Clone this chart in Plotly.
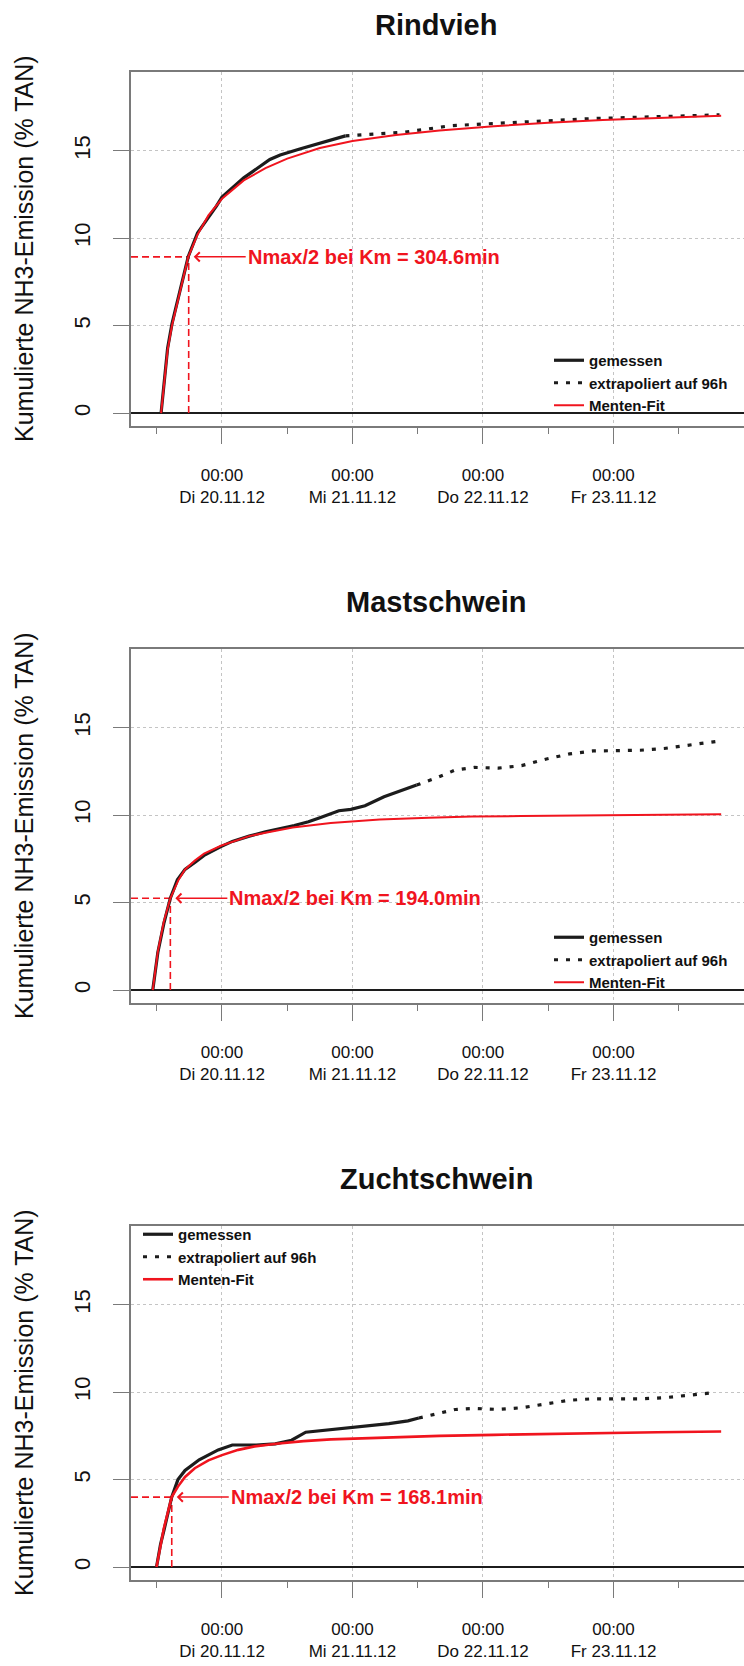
import pandas as pd
import plotly.graph_objects as go

# ---------------- data (hours relative to 20.11.12 00:00, values in % TAN) ----------------
BASE = "2012-11-20 00:00"

titles = ["Rindvieh", "Mastschwein", "Zuchtschwein"]
legend_names = ["gemessen", "extrapoliert auf 96h", "Menten-Fit"]
tick_dates = ["2012-11-20", "2012-11-21", "2012-11-22", "2012-11-23"]
tick_labels = ["00:00<br>Di 20.11.12", "00:00<br>Mi 21.11.12",
               "00:00<br>Do 22.11.12", "00:00<br>Fr 23.11.12"]
minor_dates = ["2012-11-19 12:00", "2012-11-20 12:00", "2012-11-21 12:00",
               "2012-11-22 12:00", "2012-11-23 12:00"]
y_ticks = [0, 5, 10, 15]

# Rindvieh
rind_meas_h = [-11.2, -10.6, -10.0, -9.2, -8.0, -6.2, -4.5, -2.4, -1.0, 0.0, 4.0, 8.8, 10.7, 14.3, 19.3, 22.7]
rind_meas_v = [0.0, 2.1, 3.7, 5.1, 6.7, 8.95, 10.3, 11.2, 11.85, 12.35, 13.45, 14.5, 14.75, 15.1, 15.55, 15.85]
rind_extra_h = [22.7, 28.0, 33.3, 38.0, 42.1, 46.5, 50.8, 55.0, 59.5, 64.0, 68.2, 73.0, 77.0, 81.0, 85.7, 91.5]
rind_extra_v = [15.85, 15.95, 16.05, 16.25, 16.43, 16.5, 16.57, 16.6, 16.67, 16.75, 16.84, 16.88, 16.92, 16.95, 16.98, 17.05]
rind_fit_h = [-11.2, -10.6, -10.0, -9.2, -8.0, -6.2, -4.5, -2.5, 0.0, 4.0, 8.0, 12.0, 18.0, 24.0, 32.0, 40.0, 50.0, 60.0, 70.0, 80.0, 91.8]
rind_fit_v = [0.0, 2.0, 3.6, 5.0, 6.6, 8.93, 10.2, 11.3, 12.25, 13.3, 14.0, 14.55, 15.15, 15.55, 15.9, 16.15, 16.4, 16.6, 16.75, 16.88, 17.0]

# Mastschwein
mast_meas_h = [-12.73, -11.8, -10.7, -9.5, -8.2, -6.8, -5.0, -3.3, -0.2, 1.9, 5.0, 8.0, 13.3, 15.9, 18.0, 20.3, 21.5, 23.7, 26.3, 29.8, 33.3, 35.8]
mast_meas_v = [0.0, 2.15, 3.8, 5.25, 6.3, 6.9, 7.3, 7.7, 8.2, 8.5, 8.8, 9.05, 9.41, 9.62, 9.85, 10.1, 10.25, 10.33, 10.54, 11.05, 11.46, 11.72]
mast_extra_h = [35.8, 39.4, 42.9, 46.4, 50.8, 55.1, 59.5, 63.9, 68.2, 72.6, 76.9, 81.3, 85.7, 91.0]
mast_extra_v = [11.72, 12.13, 12.58, 12.73, 12.69, 12.83, 13.2, 13.5, 13.67, 13.71, 13.71, 13.81, 13.98, 14.22]
mast_fit_h = [-12.73, -11.8, -10.7, -9.5, -8.0, -6.8, -5.0, -3.3, -0.2, 2.0, 5.0, 8.0, 13.0, 20.0, 29.0, 38.0, 46.0, 55.0, 64.0, 80.0, 91.8]
mast_fit_v = [0.0, 2.2, 3.9, 5.25, 6.3, 6.9, 7.4, 7.8, 8.25, 8.5, 8.8, 9.0, 9.3, 9.55, 9.75, 9.85, 9.92, 9.95, 9.97, 10.02, 10.05]

# Zuchtschwein
zucht_meas_h = [-12.04, -11.3, -10.7, -9.25, -8.1, -6.8, -4.2, -0.7, 1.9, 6.3, 9.8, 12.8, 15.4, 20.2, 25.5, 30.7, 34.2, 36.2]
zucht_meas_v = [0.0, 1.3, 2.07, 4.0, 5.0, 5.52, 6.13, 6.7, 6.98, 6.98, 7.04, 7.25, 7.71, 7.85, 8.02, 8.2, 8.36, 8.52]
zucht_extra_h = [36.2, 39.4, 42.9, 46.4, 50.8, 55.1, 59.5, 63.9, 68.2, 72.6, 76.9, 81.3, 85.7, 91.0]
zucht_extra_v = [8.52, 8.77, 9.01, 9.07, 9.01, 9.11, 9.34, 9.54, 9.62, 9.62, 9.62, 9.68, 9.82, 9.99]
zucht_fit_h = [-12.04, -11.3, -10.7, -9.25, -8.1, -6.8, -5.0, -2.5, 0.0, 3.0, 6.0, 10.0, 15.0, 20.0, 30.0, 40.0, 50.0, 60.0, 70.0, 80.0, 91.8]
zucht_fit_v = [0.0, 1.3, 2.2, 4.0, 4.6, 5.15, 5.65, 6.1, 6.4, 6.7, 6.9, 7.05, 7.2, 7.3, 7.42, 7.5, 7.56, 7.62, 7.67, 7.71, 7.75]

# Michaelis-Menten half-saturation markers
start_h = [-11.2, -12.73, -12.04]
km_min = [304.6, 194.0, 168.1]
half_v = [8.93, 5.25, 4.0]

meas_h = [rind_meas_h, mast_meas_h, zucht_meas_h]
meas_v = [rind_meas_v, mast_meas_v, zucht_meas_v]
extra_h = [rind_extra_h, mast_extra_h, zucht_extra_h]
extra_v = [rind_extra_v, mast_extra_v, zucht_extra_v]
fit_h = [rind_fit_h, mast_fit_h, zucht_fit_h]
fit_v = [rind_fit_v, mast_fit_v, zucht_fit_v]

X_RANGE = ["2012-11-19 07:16", "2012-11-24 00:00"]
Y_RANGE = [-0.74, 19.5]

# ---------------- layout geometry (pixels) ----------------
W, H = 744, 1666
L_M = 131
tops = [72, 649, 1226]
box_h = 354
zero_off = 341

RED = "#f0141e"
BLACK = "#1c1c1c"
GRAY = "#7a7a7a"
GRID = "#c4c4c4"
FONT = "Liberation Sans, Arial, sans-serif"


def to_dt(hours):
    return pd.Timestamp(BASE) + pd.to_timedelta(hours, unit="h")


def py(px):
    return 1 - px / H


def px_x(px):
    return (px - L_M) / (W - L_M)


fig = go.Figure()
layout = dict(width=W, height=H, margin=dict(l=L_M, r=0, t=0, b=0),
              paper_bgcolor="white", plot_bgcolor="white", showlegend=True,
              annotations=[])

for i in range(3):
    sfx = "" if i == 0 else str(i + 1)
    xa, ya = "x" + sfx, "y" + sfx
    lg = "legend" + sfx
    red_w = 2.6 if i == 2 else 2.0

    km_h = start_h[i] + km_min[i] / 60.0
    # dashed guide lines
    fig.add_trace(go.Scatter(x=to_dt([-16.73, km_h]), y=[half_v[i], half_v[i]], mode="lines",
                             line=dict(color=RED, width=1.6, dash="7px,4px"),
                             showlegend=False, hoverinfo="skip", xaxis=xa, yaxis=ya))
    fig.add_trace(go.Scatter(x=to_dt([km_h, km_h]), y=[0, half_v[i]], mode="lines",
                             line=dict(color=RED, width=1.6, dash="7px,4px"),
                             showlegend=False, hoverinfo="skip", xaxis=xa, yaxis=ya))
    # curves
    fig.add_trace(go.Scatter(x=to_dt(meas_h[i]), y=meas_v[i], mode="lines", name=legend_names[0],
                             line=dict(color=BLACK, width=3.2), xaxis=xa, yaxis=ya, legend=lg))
    fig.add_trace(go.Scatter(x=to_dt(extra_h[i]), y=extra_v[i], mode="lines", name=legend_names[1],
                             line=dict(color=BLACK, width=3.2, dash="4px,8px"),
                             xaxis=xa, yaxis=ya, legend=lg))
    fig.add_trace(go.Scatter(x=to_dt(fit_h[i]), y=fit_v[i], mode="lines", name=legend_names[2],
                             line=dict(color=RED, width=red_w), xaxis=xa, yaxis=ya, legend=lg))

    top = tops[i]
    bot = top + box_h
    layout["xaxis" + sfx] = dict(
        type="date", range=X_RANGE, anchor=ya, domain=[0, 1],
        tickmode="array", tickvals=tick_dates, ticktext=tick_labels,
        ticks="outside", ticklen=16, tickwidth=1.3, tickcolor=GRAY,
        showline=True, linecolor=GRAY, linewidth=1.6, mirror=True,
        showgrid=True, gridcolor=GRID, griddash="dot", gridwidth=1.2,
        zeroline=False, ticklabelstandoff=17,
        tickfont=dict(family=FONT, size=17, color="#111"),
        minor=dict(tickmode="array", tickvals=minor_dates, ticks="outside",
                   ticklen=6, tickcolor=GRAY, tickwidth=1.3, showgrid=False),
    )
    layout["yaxis" + sfx] = dict(
        range=Y_RANGE, anchor=xa, domain=[py(bot), py(top)],
        tickmode="array", tickvals=y_ticks, tickangle=-90,
        ticks="outside", ticklen=16, tickwidth=1.3, tickcolor=GRAY,
        showline=True, linecolor=GRAY, linewidth=1.6, mirror=False,
        showgrid=True, gridcolor=GRID, griddash="dot", gridwidth=1.2,
        zeroline=True, zerolinecolor=BLACK, zerolinewidth=1.6,
        ticklabelstandoff=14,
        tickfont=dict(family=FONT, size=22, color="#111"),
    )

    zero_px = top + zero_off
    if i < 2:
        layout[lg] = dict(x=px_x(549), y=py(zero_px - 69), xanchor="left", yanchor="top",
                          bgcolor="rgba(0,0,0,0)", borderwidth=0, tracegroupgap=0,
                          font=dict(family=FONT, size=15, color="#111", weight="bold"))
    else:
        layout[lg] = dict(x=px_x(138), y=py(top - 8), xanchor="left", yanchor="top",
                          bgcolor="rgba(0,0,0,0)", borderwidth=0, tracegroupgap=0,
                          font=dict(family=FONT, size=15, color="#111", weight="bold"))

    # panel title
    layout["annotations"].append(dict(
        text=titles[i], xref="paper", yref="paper", x=px_x(436), y=py(top - 47),
        xanchor="center", yanchor="middle", showarrow=False,
        font=dict(family=FONT, size=29, color="#111", weight="bold")))
    # y axis title
    layout["annotations"].append(dict(
        text="Kumulierte NH3-Emission (% TAN)", xref="paper", yref="paper",
        x=px_x(24), y=py(top + 177), xanchor="center", yanchor="middle",
        textangle=-90, showarrow=False,
        font=dict(family=FONT, size=25, color="#111")))
    # Km arrow annotation
    layout["annotations"].append(dict(
        text="Nmax/2 bei Km = %.1fmin" % km_min[i], xref=xa, yref=ya,
        x=to_dt([km_h])[0], y=half_v[i], ax=57, ay=0, axref="pixel", ayref="pixel",
        xanchor="left", yanchor="middle", showarrow=True, arrowhead=4,
        arrowsize=1.2, arrowwidth=1.5, arrowcolor=RED, standoff=5,
        font=dict(family=FONT, size=20, color=RED, weight="bold")))

fig.update_layout(**layout)
fig.write_html("out.html", config={"displayModeBar": False},
               post_script="document.body.style.margin='0';")
